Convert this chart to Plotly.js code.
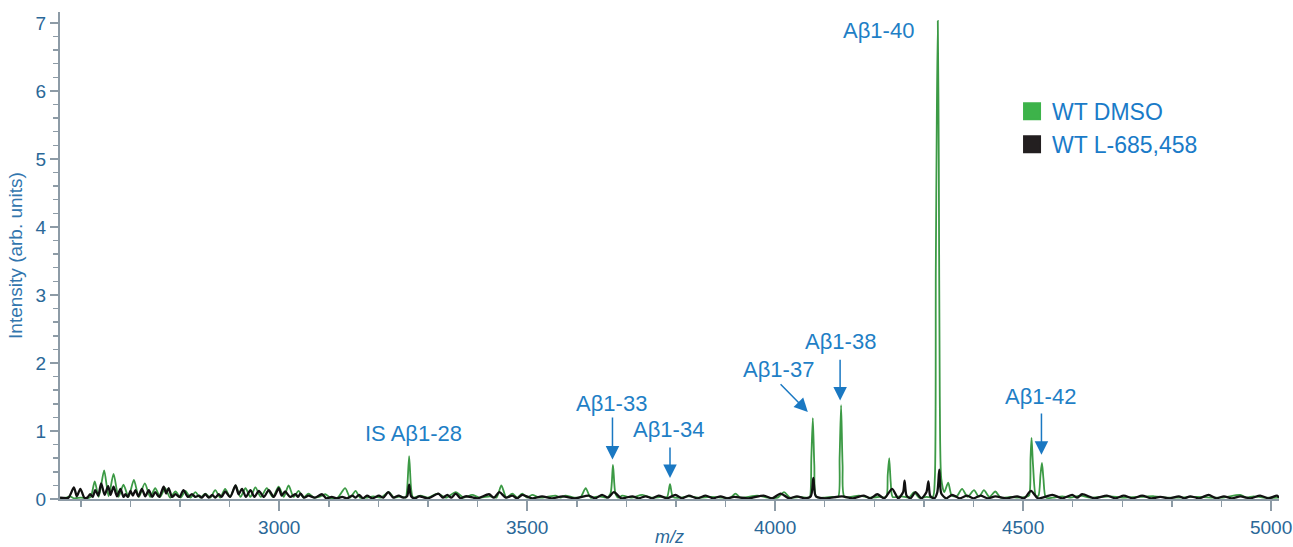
<!DOCTYPE html>
<html>
<head>
<meta charset="utf-8">
<script src="https://cdn.plot.ly/plotly-3.0.1.min.js"></script>
<style>html,body{margin:0;padding:0;background:#fff;}#chart{width:1293px;height:547px;}</style>
</head>
<body>
<div id="chart"></div>
<script>
// WT DMSO spectrum vertices (m/z, intensity)
const mzDMSO = [2558,2570,2578,2586,2600,2612,2620,2628,2636,2647,2656,2666,2676,2686,2696,2707,2717,2729,2740,2750,2760,2770,2780,2791,2801,2811,2821,2831,2841,2851,2861,2871,2881,2891,2901,2912,2922,2932,2942,2952,2963,2975,2987,2999,3009,3019,3029,3039,3049,3059,3070,3080,3093,3105,3118,3133,3143,3154,3163,3175,3190,3205,3221,3232,3245,3255,3258,3262,3266,3270,3285,3300,3319,3336,3356,3372,3389,3405,3425,3438,3448,3458,3470,3480,3490,3500,3510,3525,3540,3557,3567,3577,3595,3608,3618,3628,3645,3660,3668,3673,3678,3684,3692,3710,3732,3750,3770,3782,3788,3794,3810,3826,3845,3870,3895,3910,3920,3930,3964,3985,4005,4018,4030,4050,4066,4070,4073,4076,4079,4083,4100,4115,4127,4130,4133,4136,4140,4169,4190,4210,4224,4227,4230,4233,4237,4255,4270,4280,4290,4305,4318,4322,4324,4326,4328,4330,4332,4335,4341,4349,4356,4366,4377,4388,4401,4411,4421,4432,4444,4455,4475,4490,4505,4512,4515,4517,4520,4526,4531,4535,4538,4541,4546,4560,4579,4595,4616,4635,4676,4700,4764,4790,4850,4900,4938,4950,4965,4985,5016];
const intDMSO = [0.01,0.02,0.04,0.01,0.02,0.01,0.03,0.26,0.03,0.42,0.04,0.37,0.03,0.21,0.03,0.28,0.03,0.23,0.03,0.16,0.03,0.16,0.02,0.11,0.02,0.12,0.02,0.10,0.02,0.08,0.02,0.13,0.02,0.15,0.03,0.20,0.03,0.16,0.03,0.17,0.03,0.16,0.03,0.18,0.03,0.20,0.03,0.12,0.02,0.08,0.02,0.03,0.07,0.01,0.02,0.16,0.02,0.12,0.02,0.02,0.04,0.02,0.10,0.02,0.04,0.02,0.15,0.63,0.15,0.02,0.05,0.02,0.08,0.02,0.10,0.02,0.06,0.02,0.04,0.02,0.20,0.02,0.08,0.02,0.08,0.02,0.06,0.02,0.03,0.05,0.02,0.05,0.02,0.03,0.16,0.02,0.04,0.02,0.08,0.50,0.08,0.02,0.05,0.02,0.06,0.02,0.03,0.03,0.22,0.03,0.02,0.04,0.02,0.03,0.02,0.02,0.08,0.02,0.05,0.02,0.02,0.10,0.02,0.03,0.02,0.03,0.60,1.19,0.50,0.03,0.02,0.03,0.03,0.60,1.38,0.50,0.03,0.05,0.02,0.03,0.03,0.35,0.60,0.25,0.03,0.04,0.02,0.10,0.02,0.03,0.03,0.30,3.40,5.60,7.03,5.00,1.50,0.30,0.10,0.24,0.05,0.04,0.15,0.03,0.13,0.03,0.13,0.03,0.11,0.02,0.03,0.02,0.03,0.05,0.60,0.90,0.50,0.04,0.05,0.35,0.53,0.30,0.02,0.02,0.04,0.02,0.05,0.02,0.04,0.02,0.04,0.02,0.03,0.02,0.06,0.02,0.04,0.02,0.02];

// WT L-685,458 spectrum vertices (m/z, intensity)
const mzL685 = [2558,2575,2586,2592,2599,2607,2613,2619,2624,2629,2635,2641,2648,2655,2660,2666,2673,2680,2686,2690,2695,2700,2705,2710,2716,2723,2730,2737,2744,2750,2758,2767,2772,2777,2784,2791,2799,2807,2816,2824,2831,2838,2844,2851,2858,2865,2871,2878,2884,2891,2901,2912,2918,2925,2933,2942,2950,2959,2969,2979,2989,2999,3005,3012,3022,3033,3038,3043,3050,3059,3072,3086,3095,3106,3116,3127,3137,3147,3154,3161,3169,3177,3188,3201,3210,3220,3230,3241,3250,3258,3262,3266,3274,3282,3300,3321,3330,3339,3347,3356,3366,3376,3400,3423,3433,3444,3457,3470,3480,3490,3510,3530,3550,3571,3597,3624,3637,3651,3663,3675,3690,3712,3725,3739,3752,3765,3782,3799,3812,3826,3843,3860,3875,3890,3903,3917,3947,3977,3994,4011,4028,4044,4060,4072,4077,4082,4100,4135,4157,4179,4192,4206,4220,4236,4248,4258,4261,4265,4273,4283,4295,4305,4309,4313,4321,4327,4331,4335,4345,4357,4372,4387,4400,4414,4429,4444,4466,4488,4502,4516,4530,4559,4579,4599,4609,4619,4644,4669,4686,4703,4721,4740,4758,4777,4795,4814,4825,4837,4855,4874,4890,4905,4921,4938,4958,4978,4995,5012,5016];
const intL685 = [0.02,0.02,0.17,0.04,0.15,0.02,0.02,0.07,0.03,0.13,0.05,0.23,0.06,0.19,0.06,0.18,0.04,0.15,0.03,0.07,0.03,0.12,0.05,0.13,0.04,0.15,0.04,0.13,0.03,0.10,0.03,0.18,0.08,0.16,0.03,0.07,0.03,0.13,0.03,0.07,0.03,0.05,0.02,0.07,0.02,0.06,0.02,0.07,0.03,0.11,0.03,0.20,0.07,0.15,0.03,0.13,0.03,0.12,0.03,0.13,0.03,0.16,0.05,0.11,0.03,0.07,0.03,0.08,0.02,0.05,0.02,0.07,0.01,0.03,0.01,0.03,0.01,0.05,0.02,0.06,0.01,0.05,0.01,0.05,0.02,0.10,0.02,0.05,0.02,0.04,0.21,0.04,0.01,0.04,0.01,0.08,0.02,0.06,0.02,0.08,0.01,0.04,0.01,0.07,0.02,0.10,0.02,0.05,0.01,0.06,0.01,0.04,0.01,0.04,0.01,0.05,0.01,0.06,0.02,0.10,0.01,0.04,0.01,0.04,0.01,0.05,0.01,0.06,0.01,0.05,0.01,0.05,0.01,0.04,0.01,0.03,0.01,0.05,0.01,0.08,0.01,0.04,0.01,0.04,0.31,0.04,0.01,0.04,0.01,0.05,0.01,0.07,0.01,0.15,0.01,0.10,0.27,0.05,0.01,0.10,0.01,0.10,0.26,0.04,0.01,0.10,0.43,0.08,0.01,0.06,0.01,0.05,0.01,0.05,0.01,0.04,0.01,0.04,0.01,0.12,0.01,0.06,0.01,0.06,0.02,0.07,0.01,0.05,0.01,0.05,0.01,0.05,0.01,0.03,0.01,0.04,0.01,0.04,0.01,0.06,0.01,0.04,0.01,0.04,0.01,0.05,0.01,0.05,0.02];

const seriesNames = ['WT DMSO', 'WT L-685,458'];
const lineColors = ['#3c9a45', '#111111'];
const legendColors = ['#3db34a', '#231f20'];

// Peak labels: text, label position (m/z, intensity)
const labelText = ['A\u03b21-40', 'A\u03b21-38', 'A\u03b21-37', 'A\u03b21-42', 'A\u03b21-33', 'A\u03b21-34', 'IS A\u03b21-28'];
const labelMz   = [4208, 4131, 4007, 4535, 3670, 3785, 3271];
const labelInt  = [6.89, 2.31, 1.90, 1.50, 1.41, 1.02, 0.97];

// Arrows: tip (m/z, intensity), tail (m/z, intensity)
const arrowTipMz   = [4131, 4066, 4537, 3672, 3788];
const arrowTipInt  = [1.45, 1.28, 0.65, 0.58, 0.31];
const arrowTailMz  = [4131, 4008, 4537, 3672, 3788];
const arrowTailInt = [2.07, 1.71, 1.28, 1.22, 0.78];

const FONT = 'Liberation Sans, Arial, Helvetica, sans-serif';
const tickBlue = '#2a6898';
const labelBlue = '#1f7fc6';
const axisGray = '#8d9ba6';

const traces = [
  {x: mzDMSO, y: intDMSO, type: 'scatter', mode: 'lines', line: {color: lineColors[0], width: 1.8, shape: 'spline', smoothing: 0.7}, showlegend: false, hoverinfo: 'skip'},
  {x: mzL685, y: intL685, type: 'scatter', mode: 'lines', line: {color: lineColors[1], width: 2.3, shape: 'spline', smoothing: 0.7}, showlegend: false, hoverinfo: 'skip'},
  {x: [null], y: [null], type: 'scatter', mode: 'markers', name: seriesNames[0], marker: {symbol: 'square', size: 16, color: legendColors[0], line: {width: 2, color: legendColors[0]}}},
  {x: [null], y: [null], type: 'scatter', mode: 'markers', name: seriesNames[1], marker: {symbol: 'square', size: 16, color: legendColors[1], line: {width: 2, color: legendColors[1]}}}
];

const annotations = [];
for (let i = 0; i < labelText.length; i++) {
  annotations.push({x: labelMz[i], y: labelInt[i], xref: 'x', yref: 'y', text: labelText[i], showarrow: false,
    font: {family: FONT, size: 22, color: labelBlue}, xanchor: 'center', yanchor: 'middle'});
}
for (let i = 0; i < arrowTipMz.length; i++) {
  annotations.push({x: arrowTipMz[i], y: arrowTipInt[i], xref: 'x', yref: 'y', ax: arrowTailMz[i], ay: arrowTailInt[i],
    axref: 'x', ayref: 'y', text: '', showarrow: true, arrowhead: 2, arrowsize: 1.8, arrowwidth: 1.5, arrowcolor: '#1a78c2', standoff: 0});
}

const layout = {
  width: 1293, height: 547,
  margin: {l: 60, r: 14, t: 12, b: 48, pad: 0},
  paper_bgcolor: '#ffffff', plot_bgcolor: '#ffffff',
  font: {family: FONT, color: tickBlue},
  showlegend: true,
  legend: {x: 0.781, y: 0.840, xanchor: 'left', yanchor: 'top', font: {family: FONT, size: 23, color: '#1a7bc8'}, bgcolor: 'rgba(0,0,0,0)', itemclick: false},
  xaxis: {
    range: [2558, 5016], showgrid: false, zeroline: false, showline: true, linecolor: axisGray, linewidth: 2,
    ticks: 'outside', ticklen: 10, tickwidth: 1.5, tickcolor: axisGray, tick0: 3000, dtick: 500,
    tickfont: {family: FONT, size: 19, color: tickBlue},
    minor: {dtick: 100, tick0: 3000, ticks: 'outside', ticklen: 6, tickwidth: 1.5, tickcolor: axisGray, showgrid: false},
    title: {text: 'm/z', font: {family: FONT, size: 18, color: tickBlue, style: 'italic'}, standoff: 6}
  },
  yaxis: {
    range: [0, 7.16], showgrid: false, zeroline: false, showline: true, linecolor: axisGray, linewidth: 2,
    ticks: 'outside', ticklen: 8, tickwidth: 1.5, tickcolor: axisGray, tick0: 0, dtick: 1,
    tickfont: {family: FONT, size: 19, color: tickBlue},
    minor: {dtick: 0.2, ticks: 'outside', ticklen: 5, tickwidth: 1.5, tickcolor: axisGray, showgrid: false},
    title: {text: 'Intensity (arb. units)', font: {family: FONT, size: 19, color: '#3276ae'}, standoff: 8}
  },
  annotations: annotations
};

Plotly.newPlot('chart', traces, layout, {displayModeBar: false, staticPlot: true});
</script>
</body>
</html>
